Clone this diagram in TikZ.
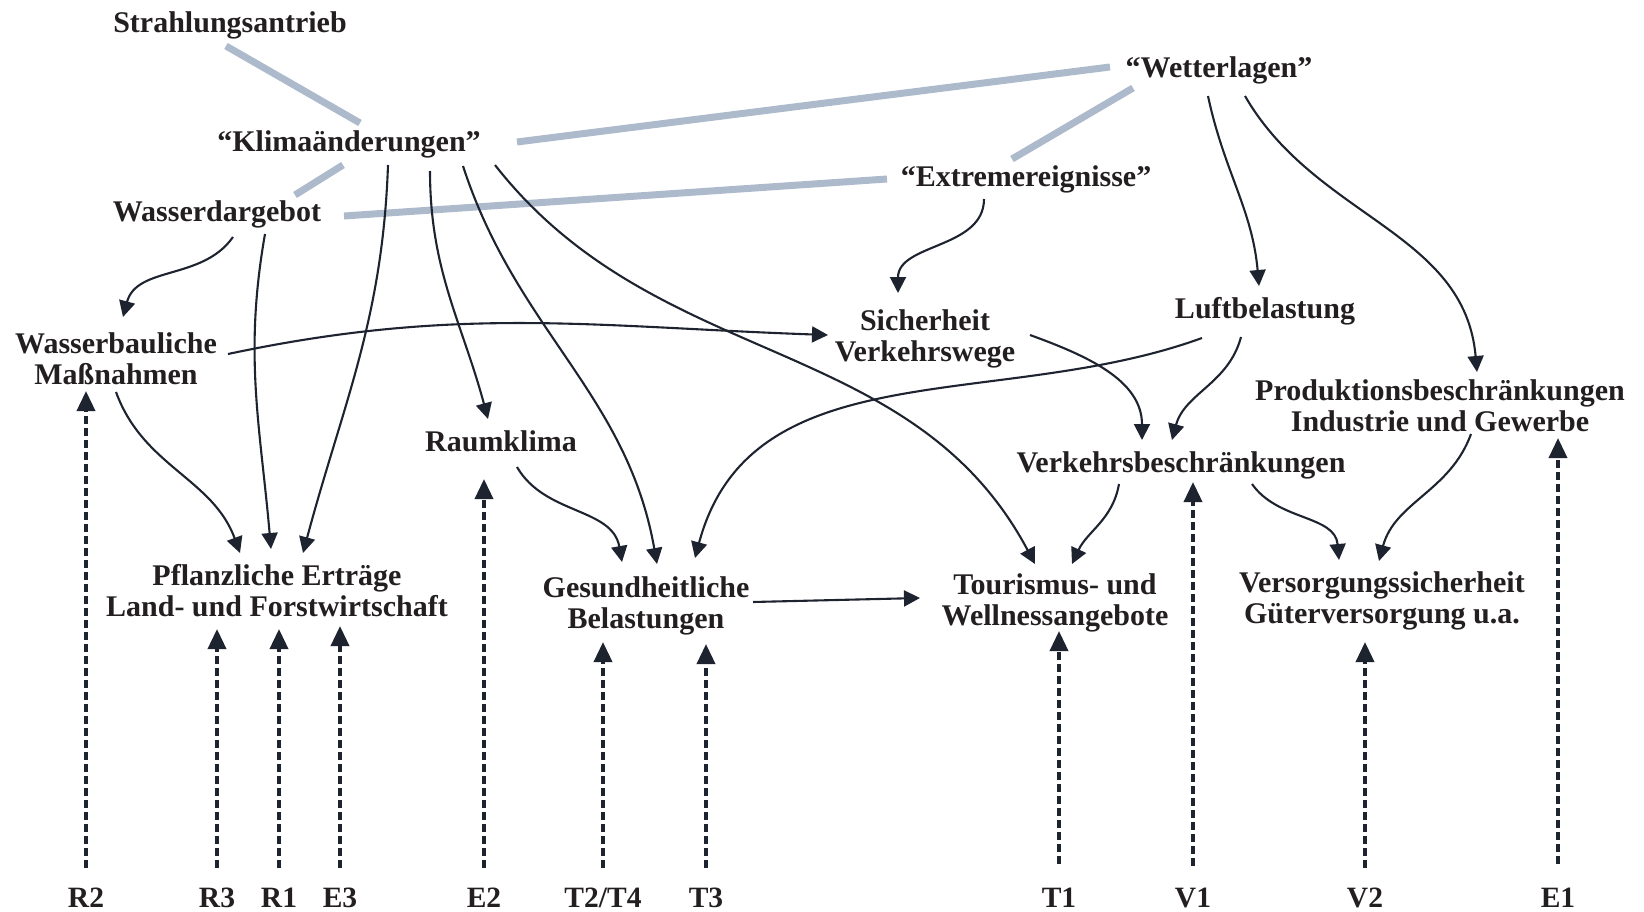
\documentclass[tikz,border=0pt]{standalone}
\usepackage{fontspec}
\setmainfont{Liberation Serif}
\usetikzlibrary{arrows.meta,calc}

\begin{document}
\begin{tikzpicture}[x=1pt, y=1pt, box/.style={font=\bfseries\fontsize{30}{31}\selectfont, align=center, inner sep=0pt, text=kcInk}, onebox/.style={box, text height=27pt, text depth=6pt}, tag/.style={font=\bfseries\fontsize{29.5}{31}\selectfont, inner sep=0pt, text height=20pt, text depth=0pt, text=kcInk}, band/.style={line width=7pt, kcGrey}, arr/.style={-{Triangle[width=16pt,length=16pt]}, line width=2.1pt, kcArrow}, dasharr/.style={-{Triangle[width=18pt,length=20pt]}, line width=3.6pt, kcArrow, dash pattern=on 8pt off 4pt}]
\definecolor{kcInk}{RGB}{35,31,32}
\definecolor{kcArrow}{RGB}{30,35,48}
\definecolor{kcGrey}{RGB}{172,186,204}
\useasboundingbox (0,0) rectangle (1644,-912);
% drivers
\node[onebox] (strahl) at (230,-22) {Strahlungsantrieb};
\node[onebox] (klima) at (349,-141) {“Klimaänderungen”};
\node[onebox] (wd) at (217,-211) {Wasserdargebot};
\node[onebox] (wet) at (1219,-67) {“Wetterlagen”};
\node[onebox] (ext) at (1026,-176) {“Extremereignisse”};
% intermediate effects
\node[box] (wb) at (116,-359) {Wasserbauliche\\Maßnahmen};
\node[box] (sich) at (925,-339) {Sicherheit\\Verkehrswege};
\node[onebox] (luft) at (1265,-308) {Luftbelastung};
\node[box] (prod) at (1440,-406) {Produktionsbeschränkungen\\Industrie und Gewerbe};
\node[onebox] (raum) at (501,-441) {Raumklima};
\node[onebox] (verk) at (1181,-462) {Verkehrsbeschränkungen};
% impacts
\node[box] (pfl) at (277,-591) {Pflanzliche Erträge\\Land- und Forstwirtschaft};
\node[box] (ges) at (646,-606) {Gesundheitliche\\Belastungen};
\node[box] (tour) at (1055,-603) {Tourismus- und\\Wellnessangebote};
\node[box] (vers) at (1382,-601) {Versorgungssicherheit\\Güterversorgung u.a.};
% indicators
\node[tag] (r2) at (86,-897) {R2};
\node[tag] (r3) at (217,-897) {R3};
\node[tag] (r1) at (279,-897) {R1};
\node[tag] (e3) at (340,-897) {E3};
\node[tag] (e2) at (484,-897) {E2};
\node[tag] (t24) at (603,-897) {T2/T4};
\node[tag] (t3) at (706,-897) {T3};
\node[tag] (t1) at (1059,-897) {T1};
\node[tag] (v1) at (1193,-897) {V1};
\node[tag] (v2) at (1365,-897) {V2};
\node[tag] (e1) at (1558,-897) {E1};
% grey links
\draw[band] ([shift={(-4,-24)}]strahl.center) -- ([shift={(11,18)}]klima.center);
\draw[band] ([shift={(-6,-24)}]klima.center) -- ([shift={(78,16)}]wd.center);
\draw[band] ([shift={(168,-1)}]klima.center) -- ([shift={(-109,0)}]wet.center);
\draw[band] ([shift={(-86,-21)}]wet.center) -- ([shift={(-14,17)}]ext.center);
\draw[band] ([shift={(127,-5)}]wd.center) -- ([shift={(-139,-3)}]ext.center);
% causal arrows
\draw[arr] ([shift={(16,-26)}]wd.center) to[out=-125, in=75] ([shift={(7,42)}]wb.center);
\draw[arr] ([shift={(48,-23)}]wd.center) to[out=-100, in=95] ([shift={(-6,42)}]pfl.center);
\draw[arr] ([shift={(39,-24)}]klima.center) to[out=-92, in=75] ([shift={(26,38)}]pfl.center);
\draw[arr] ([shift={(81,-30)}]klima.center) to[out=-90, in=105] ([shift={(-13,22)}]raum.center);
\draw[arr] ([shift={(114,-25)}]klima.center) to[out=-72, in=100] ([shift={(11,42)}]ges.center);
\draw[arr] ([shift={(146,-24)}]klima.center) to[out=-52, in=118] ([shift={(-20,39)}]tour.center);
\draw[arr] ([shift={(112,5)}]wb.center) to[out=12, in=178] ([shift={(-97,4)}]sich.center);
\draw[arr] ([shift={(0,-33)}]wb.center) to[out=-70, in=110] ([shift={(-37,38)}]pfl.center);
\draw[arr] ([shift={(-42,-23)}]ext.center) to[out=-90, in=90] ([shift={(-27,46)}]sich.center);
\draw[arr] ([shift={(-11,-29)}]wet.center) to[out=-78, in=95] ([shift={(-6,22)}]luft.center);
\draw[arr] ([shift={(26,-29)}]wet.center) to[out=-60, in=95] ([shift={(37,34)}]prod.center);
\draw[arr] ([shift={(105,4)}]sich.center) to[out=-20, in=90] ([shift={(-39,22)}]verk.center);
\draw[arr] ([shift={(-24,-29)}]luft.center) to[out=-105, in=75] ([shift={(-9,22)}]verk.center);
\draw[arr] ([shift={(-63,-30)}]luft.center) to[out=200, in=75] ([shift={(49,48)}]ges.center);
\draw[arr] ([shift={(16,-26)}]raum.center) to[out=-60, in=100] ([shift={(-24,44)}]ges.center);
\draw[arr] ([shift={(107,4)}]ges.center) -- ([shift={(-135,5)}]tour.center);
\draw[arr] ([shift={(-62,-22)}]verk.center) to[out=-100, in=65] ([shift={(17,39)}]tour.center);
\draw[arr] ([shift={(71,-22)}]verk.center) to[out=-55, in=95] ([shift={(-43,41)}]vers.center);
\draw[arr] ([shift={(31,-28)}]prod.center) to[out=-110, in=75] ([shift={(-3,40)}]vers.center);
% indicator arrows
\draw[dasharr] ([yshift=29]r2.center) -- ($(r2.center |- wb.center)+(0,-32)$);
\draw[dasharr] ([yshift=29]r3.center) -- ($(r3.center |- pfl.center)+(0,-38)$);
\draw[dasharr] ([yshift=29]r1.center) -- ($(r1.center |- pfl.center)+(0,-38)$);
\draw[dasharr] ([yshift=29]e3.center) -- ($(e3.center |- pfl.center)+(0,-35)$);
\draw[dasharr] ([yshift=29]e2.center) -- ($(e2.center |- raum.center)+(0,-38)$);
\draw[dasharr] ([yshift=29]t24.center) -- ($(t24.center |- ges.center)+(0,-36)$);
\draw[dasharr] ([yshift=29]t3.center) -- ($(t3.center |- ges.center)+(0,-38)$);
\draw[dasharr] ([yshift=33]t1.center) -- ($(t1.center |- tour.center)+(0,-28)$);
\draw[dasharr] ([yshift=31]v1.center) -- ($(v1.center |- verk.center)+(0,-20)$);
\draw[dasharr] ([yshift=29]v2.center) -- ($(v2.center |- vers.center)+(0,-41)$);
\draw[dasharr] ([yshift=33]e1.center) -- ($(e1.center |- prod.center)+(0,-32)$);
\end{tikzpicture}
\end{document}
